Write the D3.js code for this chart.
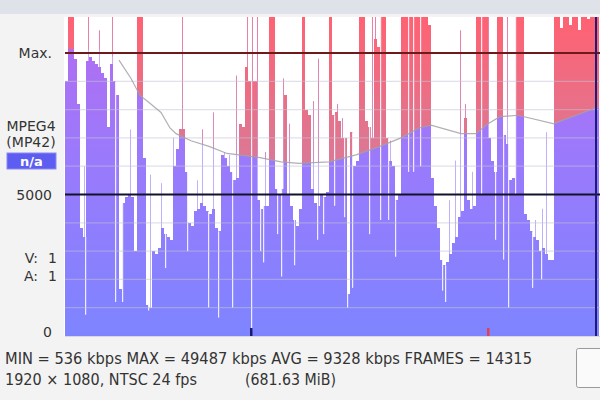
<!DOCTYPE html>
<html><head><meta charset="utf-8">
<script src="https://cdn.jsdelivr.net/npm/d3@7"></script>
<style>html,body{margin:0;padding:0;background:#f3f3f3;} svg{display:block;}</style>
</head><body><svg id="c" width="600" height="400"></svg>
<script>
// ---- data (kbps per bin, bins are equal slices of the 14315 frames) ----
const bitrate = [
 9000,11500,11500,9800,8200,3800,3500,9700,9850,9700,
 9600,9500,9300,9100,7400,9600,9000,8500,1650,4700,
 4900,5000,4900,3000,11500,11500,6300,1100,1000,3000,
 2900,3100,3800,3600,3500,3400,6000,6600,7300,7300,
 5800,4000,3900,4400,4500,4700,4600,4400,4300,4500,
 3800,3700,6400,6300,6000,5800,5500,5600,7500,7400,
 9500,9000,9000,9000,4800,4500,4600,4600,11500,11500,
 5200,5000,5200,8500,5000,4600,4100,3900,4500,11500,
 8000,7800,5200,4700,4600,5000,4900,5100,11500,7800,
 7900,7600,7000,7000,1500,7200,6000,6200,11500,11500,
 7600,7400,7000,10500,10200,11500,11500,7000,6200,6000,
 4800,5000,11500,11500,11500,11500,11500,11500,11500,11500,
 11500,11000,5600,4600,3800,2700,2500,2600,2900,3300,
 3500,4200,4400,7700,4800,4500,4600,11500,11500,11500,
 11500,7000,6200,5800,11500,11500,7100,6800,5500,5600,
 11500,11500,11500,4300,4100,3700,3500,3400,3000,3100,
 2900,2700,2700,11500,11500,10900,11500,11500,11000,11500,
 11500,10800,11500,11500,11200,11500,11500,11500
];
// envelope curve: [bin position, kbps]
const envelope = [[0,10150],[12,10100],[18,9750],[22,9100],[25,8500],[28,8250],[32,7900],[35,7350],[37,7150],[42,6900],[48,6700],[54,6450],[58,6400],[65,6300],[72,6150],[78,6100],[88,6150],[97,6400],[105,6700],[112,7000],[118,7350],[122,7450],[132,7150],[137,7150],[141,7500],[145,7750],[151,7800],[163,7500],[164,7550],[178,8100]];
// single-frame peaks: [bin position, kbps]
const spikes = [[7.67,11500],[11.33,10800],[15.67,11500],[6.33,6000],[21.67,7300],[28.33,5700],[32,5400],[36,7000],[39,11500],[44,5500],[45.67,7300],[49.33,7900],[53,6500],[54.67,6400],[57,9200],[60.67,11500],[62.33,11500],[64,11500],[66.67,6500],[72.67,9100],[74.67,7500],[82.67,8300],[84.33,9800],[90.67,8200],[92.33,7700],[102.33,11500],[103.33,11500],[108.33,6900],[128,4800],[130,6200],[131.67,10800],[133.33,8200],[135.67,5800],[141,11500],[147.33,11500],[156.67,4100],[159,4500],[160.33,7200]];
// single-frame drops: [bin position, kbps]
const dips = [[6.67,750],[16.67,1200],[19,1200],[27.67,900],[33.33,2400],[40.67,3000],[47.67,1000],[51,650],[55.67,1000],[62,200],[65,3000],[66,2600],[70.67,3600],[72,2100],[76.33,2500],[84,3400],[86,3600],[89.67,4600],[93,4200],[94,1000],[95.67,1700],[101.33,3600],[105,4100],[107.67,4100],[110,2800],[114.33,5800],[116,5800],[118.33,6000],[125.67,1600],[126.67,1200],[138.67,5000],[143.33,3400],[146,2700],[147.67,1000],[150,5000],[155.67,1700],[158.67,2000]];
const gridValues = [1000,2000,3000,4000,6000,7000,8000,9000];
const refLines = [{label:"Max.", value:10000, color:"#6e1a1a"},{label:"5000", value:5000, color:"#12122a"}];
const markers = [{pos:62, color:"#1a1a70"},{pos:141, color:"#e04050"}];
const cursorPos = 177;
const envelopeVisibleFrom = 18;
const statsLine = "MIN = 536 kbps  MAX = 49487 kbps  AVG = 9328 kbps  FRAMES = 14315";
const formatLine = "1920 × 1080, NTSC 24 fps";
const sizeLine = "(681.63 MiB)";
const codec = ["MPEG4","(MP42)"];
const streams = [["V:","1"],["A:","1"]];

// ---- drawing ----
const svg = d3.select("#c");
const L=65, R=599, T=17, B=336;
const x = d3.scaleLinear().domain([0, bitrate.length]).range([L, L + 3*bitrate.length]);
const y = d3.scaleLinear().domain([0,10000]).range([B,53]);
const font = "'DejaVu Sans', Verdana, sans-serif";

const defs = svg.append("defs");
const gp = defs.append("linearGradient").attr("id","gp").attr("gradientUnits","userSpaceOnUse").attr("x1",0).attr("x2",0).attr("y1",T).attr("y2",B);
gp.append("stop").attr("offset",0).attr("stop-color","#b46cf0");
gp.append("stop").attr("offset",0.45).attr("stop-color","#9a7afc");
gp.append("stop").attr("offset",1).attr("stop-color","#7e84ff");
const gr = defs.append("linearGradient").attr("id","gr").attr("gradientUnits","userSpaceOnUse").attr("x1",0).attr("x2",0).attr("y1",T).attr("y2",170);
gr.append("stop").attr("offset",0).attr("stop-color","#ff6272");
gr.append("stop").attr("offset",1).attr("stop-color","#d87a98");
defs.append("clipPath").attr("id","plotClip").append("rect").attr("x",L).attr("y",T).attr("width",600-L).attr("height",B-T);
const area = d3.area().x(d=>x(d[0])).y0(0).y1(d=>y(d[1]));
defs.append("clipPath").attr("id","aboveClip").append("path").attr("d", area(envelope));

// backgrounds
svg.append("rect").attr("width",600).attr("height",400).attr("fill","#f3f3f3");
svg.append("rect").attr("width",600).attr("height",14).attr("fill","#dfe3e9");
svg.append("rect").attr("x",L-1).attr("y",T).attr("width",600-L+1).attr("height",B-T).attr("fill","#ffffff");

const plot = svg.append("g").attr("clip-path","url(#plotClip)");
// purple bars
plot.append("g").selectAll("rect").data(bitrate).join("rect")
  .attr("x",(d,i)=>x(i)).attr("width",x(1)-x(0)+0.3).attr("y",d=>y(d)).attr("height",d=>B-y(d))
  .attr("fill","url(#gp)").attr("shape-rendering","crispEdges");
plot.append("g").selectAll("rect").data(spikes).join("rect")
  .attr("x",d=>x(d[0])).attr("width",1).attr("y",d=>y(d[1])).attr("height",d=>B-y(d[1]))
  .attr("fill","url(#gp)").attr("opacity",0.6);
// red part above envelope
const red = plot.append("g").attr("clip-path","url(#aboveClip)");
red.append("g").selectAll("rect").data(bitrate).join("rect")
  .attr("x",(d,i)=>x(i)).attr("width",x(1)-x(0)+0.3).attr("y",d=>y(d)).attr("height",d=>B-y(d))
  .attr("fill","url(#gr)").attr("shape-rendering","crispEdges");
red.append("g").selectAll("rect").data(spikes).join("rect")
  .attr("x",d=>x(d[0])).attr("width",1).attr("y",d=>y(d[1])).attr("height",d=>B-y(d[1]))
  .attr("fill","url(#gr)").attr("opacity",0.6);
// drops
plot.append("g").selectAll("rect").data(dips).join("rect")
  .attr("x",d=>x(d[0])).attr("width",1.2)
  .attr("y",d=>y(bitrate[Math.floor(d[0])]))
  .attr("height",d=>Math.max(0,y(d[1])-y(bitrate[Math.floor(d[0])])))
  .attr("fill","#fbf8ff").attr("opacity",0.9);
// grid
plot.append("g").selectAll("line").data(gridValues).join("line")
  .attr("x1",L).attr("x2",600).attr("y1",d=>y(d)).attr("y2",d=>y(d))
  .attr("stroke","#c4c4d4").attr("stroke-opacity",0.5).attr("stroke-width",1.2);
// envelope line (hidden behind the bars at the very start)
plot.append("path").attr("d", d3.line().x(d=>x(d[0])).y(d=>y(d[1]))(envelope.filter(d=>d[0]>=envelopeVisibleFrom)))
  .attr("fill","none").attr("stroke","#a4a0a8").attr("stroke-width",1.2).attr("opacity",0.85);
// reference lines
svg.append("g").selectAll("line").data(refLines).join("line")
  .attr("x1",L).attr("x2",600).attr("y1",d=>y(d.value)).attr("y2",d=>y(d.value))
  .attr("stroke",d=>d.color).attr("stroke-width",2);
// cursor and markers
svg.append("line").attr("x1",x(cursorPos)).attr("x2",x(cursorPos)).attr("y1",T).attr("y2",B)
  .attr("stroke","#1c1c78").attr("stroke-width",2);
svg.append("g").selectAll("rect").data(markers).join("rect")
  .attr("x",d=>x(d.pos)-1).attr("width",2.5).attr("y",B-8).attr("height",8).attr("fill",d=>d.color);
svg.append("line").attr("x1",L).attr("x2",600).attr("y1",B+0.5).attr("y2",B+0.5).attr("stroke","#d8d8e0");

// left labels
const lab = svg.append("g").attr("font-family",font).attr("font-size",14).attr("fill","#333");
refLines.forEach(r=>{
  lab.append("text").attr("x",52).attr("y",y(r.value)+5).attr("text-anchor","end").text(r.label);
});
lab.append("text").attr("x",52).attr("y",B+1).attr("text-anchor","end").text("0");
lab.append("text").attr("x",31).attr("y",131).attr("text-anchor","middle").text(codec[0]);
lab.append("text").attr("x",31).attr("y",147).attr("text-anchor","middle").text(codec[1]);
svg.append("rect").attr("x",7).attr("y",153).attr("width",49).attr("height",16).attr("fill","#5d5df2").attr("stroke","#8a8af5");
svg.append("text").attr("x",31.5).attr("y",166).attr("text-anchor","middle").attr("font-family",font)
  .attr("font-size",13).attr("font-weight","bold").attr("fill","#fff").text("n/a");
streams.forEach((s,k)=>{
  lab.append("text").attr("x",38).attr("y",263+k*18).attr("text-anchor","end").text(s[0]);
  lab.append("text").attr("x",57).attr("y",263+k*18).attr("text-anchor","end").text(s[1]);
});
// stats
const st = svg.append("g").attr("font-family",font).attr("font-size",15).attr("fill","#333");
st.append("text").attr("x",5).attr("y",364).attr("textLength",527).attr("lengthAdjust","spacingAndGlyphs").text(statsLine);
st.append("text").attr("x",5).attr("y",385).attr("textLength",192).attr("lengthAdjust","spacingAndGlyphs").text(formatLine);
st.append("text").attr("x",245).attr("y",385).attr("textLength",91).attr("lengthAdjust","spacingAndGlyphs").text(sizeLine);
// button
svg.append("rect").attr("x",576.5).attr("y",348.5).attr("width",30).attr("height",39).attr("rx",2)
  .attr("fill","#fafafa").attr("stroke","#9a9a9a");
</script></body></html>
